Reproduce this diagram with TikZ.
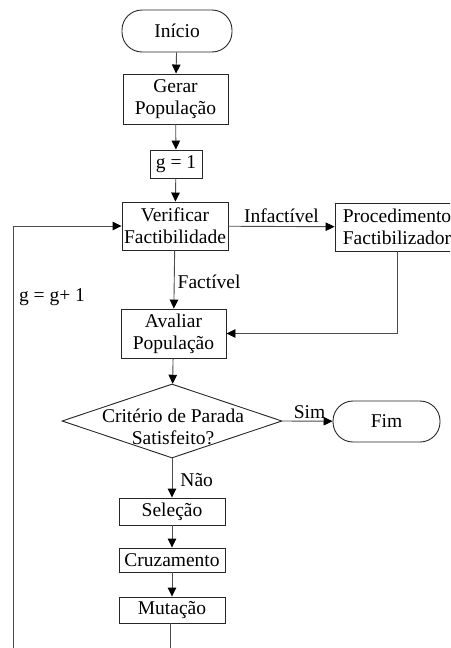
\documentclass[tikz,border=0pt]{standalone}
\usepackage{fontspec}
\setmainfont{Liberation Serif}
\usetikzlibrary{arrows.meta, shapes.geometric}

\begin{document}
\begin{tikzpicture}[x=1pt, y=-1pt, line width=0.9pt,
	every node/.style={font=\fontsize{19.5}{22}\selectfont},
	terminal/.style={shape=rectangle, draw=black!85, rounded corners=20pt, inner sep=0pt},
	procbox/.style={shape=rectangle, draw=black!85, align=center, inner sep=0pt},
	decision/.style={shape=diamond, draw=black!85, inner sep=0pt, minimum width=220pt, minimum height=74pt},
	seta/.style={draw=black!70, -{Triangle[length=9pt, width=8.5pt, color=black]}},
	wire/.style={draw=black!70}]
	\useasboundingbox (0, 0) rectangle (450, 648);
	\clip (0, 0) rectangle (450, 648);
	% Paths, nodes and wires:
	\node[terminal, minimum width=110pt, minimum height=42pt] (ini) at (177, 31) {Início};
	\node[procbox, minimum width=105pt, minimum height=50pt] (ger) at (175.5, 99) {Gerar\\População};
	\node[procbox, minimum width=52pt, minimum height=28pt] (g1) at (176, 164) {g = 1};
	\node[procbox, minimum width=106pt, minimum height=48pt] (ver) at (175, 226) {Verificar\\Factibilidade};
	\node[procbox, minimum width=124pt, minimum height=48pt] (proc) at (397, 227) {Procedimento\\Factibilizador};
	\node[procbox, minimum width=105pt, minimum height=49pt] (aval) at (173.5, 333.5) {Avaliar\\População};
	\node[decision] (crit) at (172, 421) {};
	\node[align=center, inner sep=0pt] (critlbl) at (173, 427) {Critério de Parada\\Satisfeito?};
	\node[terminal, minimum width=107pt, minimum height=41pt] (fim) at (386.5, 421.5) {Fim};
	\node[procbox, minimum width=106pt, minimum height=27pt] (sel) at (172, 511.5) {Seleção};
	\node[procbox, minimum width=106pt, minimum height=24pt] (cruz) at (172, 560) {Cruzamento};
	\node[procbox, minimum width=106pt, minimum height=26pt] (mut) at (172, 610) {Mutação};
	\coordinate (loopa) at (170, 680);
	\coordinate (loopb) at (13, 680);

	\draw[seta] (ini) -- (ger);
	\draw[seta] (ger) -- (g1);
	\draw[seta] (g1) -- (ver);
	\draw[seta] (ver) -- node[above, inner sep=3pt] (inf) {Infactível} (proc);
	\draw[seta] (ver) -- node[right, inner sep=3pt, yshift=-2pt] (fac) {Factível} (aval);
	\draw[seta] (proc.south) |- (aval.east);
	\draw[seta] (aval) -- (crit);
	\draw[seta] (crit.east) -- node[above, inner sep=2pt, xshift=2pt] (sim) {Sim} (fim);
	\draw[seta] (crit.south) -- node[right, inner sep=8pt, yshift=-2pt] (nao) {Não} (sel);
	\draw[seta] (sel) -- (cruz);
	\draw[seta] (cruz) -- (mut);
	\draw[seta] (mut.south -| loopa) -- (loopa) -- (loopb) |- (ver.west);
	\node (inc) at (52, 297) {g = g+ 1};
\end{tikzpicture}
\end{document}
